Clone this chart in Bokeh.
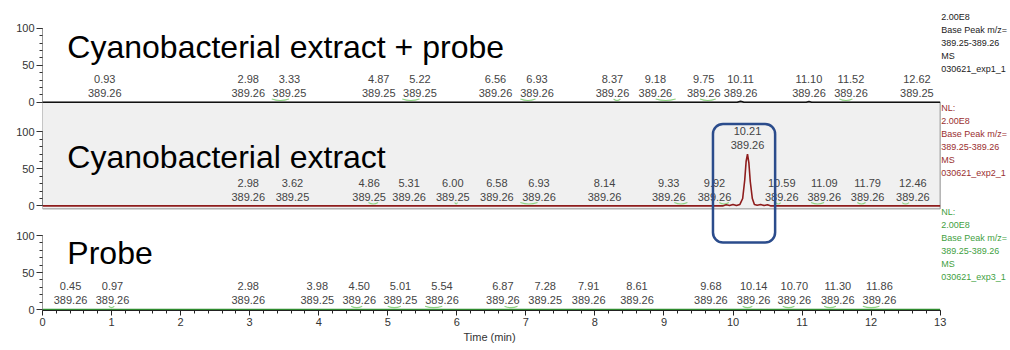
from bokeh.plotting import figure
from bokeh.models import Range1d, FixedTicker, Label, ColumnDataSource, Title
from bokeh.core.properties import value
from bokeh.embed import file_html
from bokeh.resources import INLINE

# ---------------- data ----------------
titles = ["Cyanobacterial extract + probe", "Cyanobacterial extract", "Probe"]

# panel 1: extract + probe
p1_rt = [0.93, 2.98, 3.33, 4.87, 5.22, 6.56, 6.93, 8.37, 9.18, 9.75, 10.11, 11.10, 11.52, 12.62]
p1_mz = ["389.26", "389.26", "389.25", "389.25", "389.25", "389.26", "389.26", "389.26",
         "389.26", "389.26", "389.26", "389.26", "389.26", "389.25"]
p1_h = [0.5] * 14
p1_trace_t = [0.0, 10.06, 10.11, 10.16, 11.06, 11.10, 11.14, 13.0]
p1_trace_i = [0.0, 0.0, 1.5, 0.0, 0.0, 1.0, 0.0, 0.0]
p1_marks_start = [3.32, 5.21, 6.92, 8.27, 8.88, 9.52, 11.54]
p1_marks_end = [3.57, 5.46, 7.14, 8.37, 9.17, 9.75, 11.73]

# panel 2: extract
p2_rt = [2.98, 3.62, 4.86, 5.31, 6.00, 6.58, 6.93, 8.14, 9.33, 9.92, 10.21, 10.59, 11.09, 11.79, 12.46]
p2_mz = ["389.26", "389.25", "389.25", "389.26", "389.25", "389.26", "389.26", "389.26",
         "389.26", "389.26", "389.26", "389.26", "389.26", "389.26", "389.26"]
p2_h = [0.5, 0.5, 0.5, 0.5, 0.5, 0.5, 0.5, 0.5, 0.5, 0.5, 70.0, 0.5, 0.5, 0.5, 0.5]
p2_trace_t = [0.0, 9.85, 9.90, 9.95, 10.00, 10.05, 10.10, 10.14, 10.17, 10.19, 10.21,
              10.23, 10.25, 10.28, 10.31, 10.35, 10.40, 10.45, 10.50, 10.55, 13.0]
p2_trace_i = [0.0, 0.0, 1.5, 0.5, 2.0, 0.5, 2.0, 10.0, 35.0, 60.0, 70.0,
              58.0, 33.0, 10.0, 2.0, 1.0, 2.0, 0.5, 1.5, 0.0, 0.0]
p2_marks_start = [4.72, 5.97, 6.92, 9.15, 9.80, 10.62, 11.13, 11.80, 12.45]
p2_marks_end = [4.86, 6.01, 7.17, 9.34, 9.94, 10.69, 11.32, 11.92, 12.55]

# panel 3: probe
p3_rt = [0.45, 0.97, 2.98, 3.98, 4.50, 5.01, 5.54, 6.87, 7.28, 7.91, 8.61, 9.68, 10.14, 10.70, 11.30, 11.86]
p3_mz = ["389.26", "389.26", "389.26", "389.25", "389.26", "389.25", "389.26", "389.26",
         "389.25", "389.26", "389.26", "389.26", "389.26", "389.26", "389.26", "389.26"]
p3_h = [0.5] * 16
p3_trace_t = [0.0, 13.0]
p3_trace_i = [0.0, 0.0]
p3_marks_start = [0.96, 4.47, 5.00, 5.54, 6.69, 10.14, 10.72, 11.32, 11.88]
p3_marks_end = [1.04, 4.63, 5.19, 5.79, 6.88, 10.28, 10.89, 11.49, 12.12]

info1 = ["2.00E8", "Base Peak m/z=", "389.25-389.26", "MS", "030621_exp1_1"]
info2 = ["NL:", "2.00E8", "Base Peak m/z=", "389.25-389.26", "MS", "030621_exp2_1"]
info3 = ["NL:", "2.00E8", "Base Peak m/z=", "389.25-389.26", "MS", "030621_exp3_1"]

x_ticks = list(range(0, 14))
y_ticks = [0, 50, 100]
x_title = "Time (min)"

# ---------------- layout (not data) ----------------
# label de-overlap shifts (pixels), as placed by the instrument software
p1_shift = [-2, 0, 17, 0, 17, 0, 16, -8, -21, -12, 0, 0, 13, 3]
p2_shift = [0, 0, -9, 0, -4, 0, 18, 0, -18, -13, 0, 8, 16, 11, 10]
p3_shift = [-3, 3, 0, 0, 6, 12, 17, -14, 0, 0, 0, 0, 11, 13, 15, 18]

FONT = "Liberation Sans"
PX = 0.74      # pixels per % unit
PXM = 69.05    # pixels per minute
OFFS = [280, 140, 0]   # vertical stacking of the three traces
LABEL_COLOR = "#444444"
MARK_COLOR = "#8fd383"

# highlight box
box_left, box_right = 9.71, 10.61
box_top = OFFS[1] + 110.8
box_bottom = OFFS[2] + 90.5

p = figure(width=1010, height=350, output_backend="svg", toolbar_location=None,
           x_range=Range1d(0, 968 / PXM), y_range=Range1d(-1 / PX, 309 / PX),
           min_border_left=42, min_border_right=0, min_border_top=0, min_border_bottom=40)
p.grid.visible = False
p.outline_line_color = None
p.background_fill_color = "white"
p.border_fill_color = "white"

# y axis: three stacked 0-100 scales
ya = p.yaxis[0]
ya.ticker = FixedTicker(ticks=[o + t for o in OFFS for t in y_ticks],
                        minor_ticks=[o + m for o in OFFS for m in range(0, 101, 10)])
ya.major_label_overrides = {o + t: str(t) for o in OFFS for t in y_ticks}
ya.axis_line_color = None
ya.major_tick_out = 6
ya.major_tick_in = 0
ya.minor_tick_out = 3
ya.minor_tick_in = 0
ya.major_tick_line_color = "#333333"
ya.minor_tick_line_color = "#333333"
ya.major_label_text_font = FONT
ya.major_label_text_font_size = "11px"
ya.major_label_text_color = "#333333"
ya.major_label_standoff = 2

# x axis
xa = p.xaxis[0]
xa.ticker = FixedTicker(ticks=x_ticks, minor_ticks=[i / 5 for i in range(0, 66)])
xa.bounds = (0, 13)
xa.major_tick_out = 5
xa.major_tick_in = 0
xa.minor_tick_out = 3
xa.minor_tick_in = 0
xa.axis_line_color = "#222222"
xa.major_tick_line_color = "#222222"
xa.minor_tick_line_color = "#222222"
xa.major_label_text_font = FONT
xa.major_label_text_font_size = "11px"
xa.major_label_text_color = "#333333"
xa.major_label_standoff = 2

# axis title centred under the 0-13 min span
p.add_layout(Title(text=x_title, align="left", offset=421, text_font=FONT,
                   text_font_size="11px", text_font_style="normal", text_color="#333333",
                   standoff=0), "below")

# grey panel behind the middle trace
p.quad(left=[0], right=[13], bottom=[OFFS[1] - 4], top=[OFFS[0]],
       fill_color="#f0f0f0", line_color="#909090", line_width=1)

# y axis spines, one per trace
p.segment(x0=[0] * 3, y0=OFFS, x1=[0] * 3, y1=[o + 100 for o in OFFS],
          line_color="#333333", line_width=1)


def add_panel(off, title, title_mid, rt, mz, h, shift, tt, ti, ms, me, color, info, info_color, first_line):
    p.quadratic(x0=ms, y0=[off + 4.5] * len(ms), x1=me, y1=[off + 4.5] * len(me),
                cx=[(a + b) / 2 for a, b in zip(ms, me)], cy=[off + 0.5] * len(ms),
                line_color=MARK_COLOR, line_width=1.1)
    p.line(tt, [v + off for v in ti], line_color=color, line_width=1.6)
    src = ColumnDataSource(dict(
        x=[t + s / PXM for t, s in zip(rt, shift)],
        rt=[f"{t:.2f}" for t in rt],
        mz=mz,
        y_mz=[v + off + 12.0 for v in h],
        y_rt=[v + off + 31.0 for v in h],
    ))
    for col, ycol in (("rt", "y_rt"), ("mz", "y_mz")):
        p.text(x="x", y=ycol, text=col, source=src, text_align="center", text_baseline="middle",
               text_font=value(FONT), text_font_size="11px", text_color=LABEL_COLOR)
    p.add_layout(Label(x=0.36, y=off + title_mid, text=title, text_font=FONT, text_font_size="32px",
                       text_color="#000000", text_baseline="middle", text_align="left"))
    for i, line in enumerate(info):
        k = i + first_line
        p.add_layout(Label(x=13, y=off + (98 - 13 * k) / PX, x_offset=1, text=line,
                           text_font=FONT, text_font_size="9px", text_color=info_color,
                           text_align="left", text_baseline="middle"))


add_panel(OFFS[0], titles[0], 55 / PX, p1_rt, p1_mz, p1_h, p1_shift, p1_trace_t, p1_trace_i,
          p1_marks_start, p1_marks_end, "#111111", info1, "#222222", 1)
add_panel(OFFS[1], titles[1], 49 / PX, p2_rt, p2_mz, p2_h, p2_shift, p2_trace_t, p2_trace_i,
          p2_marks_start, p2_marks_end, "#8e1c1c", info2, "#9a2f2f", 0)
add_panel(OFFS[2], titles[2], 57 / PX, p3_rt, p3_mz, p3_h, p3_shift, p3_trace_t, p3_trace_i,
          p3_marks_start, p3_marks_end, "#2e8b2e", info3, "#3f9f3f", 0)

p.quad(left=[box_left], right=[box_right], top=[box_top], bottom=[box_bottom],
       fill_color=None, line_color="#2b4c8c", line_width=2.5, border_radius=10)

open("out.html", "w").write(file_html(p, INLINE))
